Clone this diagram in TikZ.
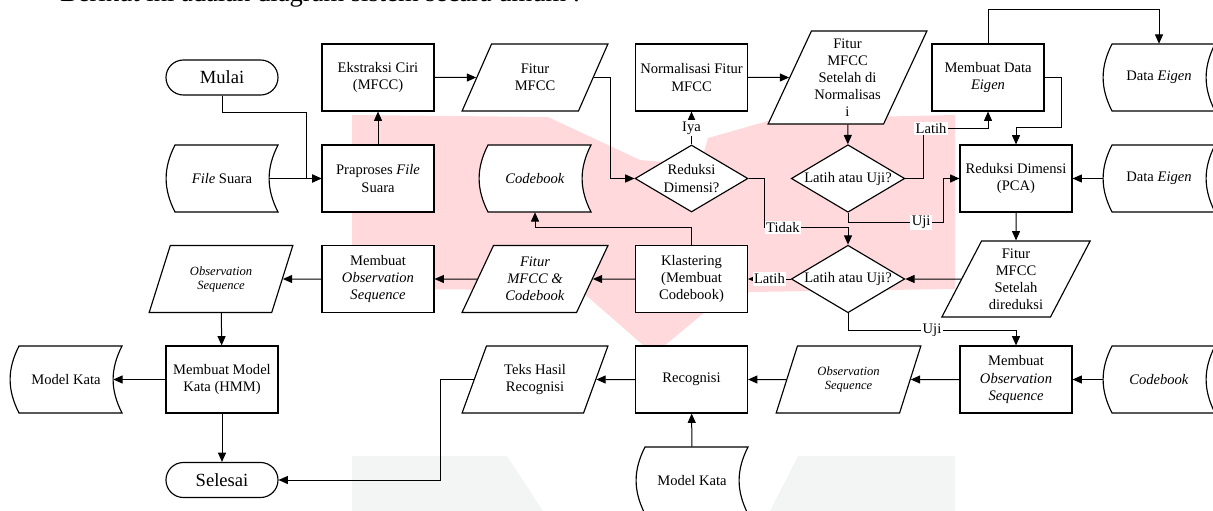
\documentclass[tikz,border=0pt]{standalone}
\usepackage{fontspec}
\setmainfont{Liberation Serif}
\usetikzlibrary{arrows.meta}
\usetikzlibrary{shapes.geometric}
\usetikzlibrary{calc}

\definecolor{logopink}{RGB}{255,217,220}
\definecolor{logogray}{RGB}{243,244,244}

\tikzset{
  shapeline/.style={draw=black, line width=0.8pt},
  proses/.style={shapeline, fill=white, rectangle, minimum width=78.4pt, minimum height=46.9pt, inner sep=1pt, align=center},
  terminal/.style={shapeline, fill=white, rectangle, rounded corners=12.2pt, minimum width=78.4pt, minimum height=24.5pt, font=\fontsize{13}{15}\selectfont},
  io/.style={shapeline, fill=white, trapezium, trapezium left angle=63, trapezium right angle=117, trapezium stretches=true, minimum width=102.2pt, minimum height=46.9pt, inner sep=0pt, align=center},
  keputusan/.style={shapeline, fill=white, diamond, aspect=1.68, minimum width=77pt, minimum height=46.9pt, inner sep=0.5pt, align=center},
  datastore/.style={minimum width=78.4pt, minimum height=46.9pt, inner sep=0pt, align=center},
  kecil/.style={font=\fontsize{8.8}{9.8}\selectfont\itshape},
  lbl/.style={fill=white, inner sep=1pt},
  alur/.style={line width=0.7pt, ->, >={Triangle[length=6.5pt,width=5.6pt]}},
}

% outline of a stored-data symbol around a centre point
\newcommand{\drawstore}[1]{%
  \draw[shapeline, fill=white] (#1) +(-47,-33.5) -- +(56,-33.5)
    to[bend right=27] +(56,33.5) -- +(-47,33.5)
    to[bend left=27] +(-47,-33.5) -- cycle;}

\begin{document}
\begin{tikzpicture}[x=0.7pt, y=-0.7pt, font=\fontsize{10.2}{12}\selectfont]
\useasboundingbox (0,0) rectangle (1213,511);

% watermark in the background
\fill[logopink] (352,115) -- (548,117) -- (640,160) -- (700,165) -- (708,138) -- (775,119)
  -- (955,115) -- (955,289) -- (750,292) -- (705,312) -- (664,346) -- (644,346)
  -- (580,290) -- (352,289) -- cycle;
\fill[logogray] (352,456) -- (507,456) -- (543,511) -- (352,511) -- cycle;
\fill[logogray] (798,456) -- (955,456) -- (955,511) -- (770,511) -- cycle;

\node[anchor=base west, font=\fontsize{18.6}{22}\selectfont] (judul) at (55,1.5) {Berikut ini adalah diagram sistem secara umum :};

\foreach \pos in {{222,178.5},{535,178.5},{1159,77.5},{1159,178.5},{66,379.5},{1159,379.5},{692,480.5}}
  \drawstore{\pos};

% top rows
\node[terminal] (mulai) at (222,77.5) {Mulai};
\node[datastore] (suara) at (222,178.5) {\textit{File} Suara};
\node[proses] (praproses) at (378,178.5) {Praproses \textit{File}\\Suara};
\node[proses] (ekstraksi) at (378,77.5) {Ekstraksi Ciri\\(MFCC)};
\node[io] (fitur) at (535,77.5) {Fitur\\MFCC};
\node[proses] (normalisasi) at (691.5,77.5) {Normalisasi Fitur\\MFCC};
\node[io, minimum width=111.3pt, minimum height=65.1pt] (fiturnorm) at (847.5,77.5) {Fitur\\MFCC\\Setelah di\\Normalisas\\i};
\node[proses] (eigen) at (988,77.5) {Membuat Data\\\textit{Eigen}};
\node[datastore] (eigenA) at (1159,77.5) {Data \textit{Eigen}};
\node[datastore] (codebookA) at (535,178.5) {\textit{Codebook}};
\node[keputusan, minimum width=79pt] (reduksi) at (691.5,178.5) {Reduksi\\Dimensi?};
\node[keputusan] (pilihA) at (848,178.5) {Latih atau Uji?};
\node[proses] (pca) at (1016,178.5) {Reduksi Dimensi\\(PCA)};
\node[datastore] (eigenB) at (1159,178.5) {Data \textit{Eigen}};

% middle row
\node[io, kecil, minimum width=100.8pt] (seqA) at (221,279) {Observation\\Sequence};
\node[proses] (obsA) at (378,279) {Membuat\\\textit{Observation}\\\textit{Sequence}};
\node[io] (fiturcb) at (535,279) {\textit{Fitur}\\\textit{MFCC \&}\\\textit{Codebook}};
\node[proses] (klaster) at (691.5,279) {Klastering\\(Membuat\\Codebook)};
\node[keputusan] (pilihB) at (848,279) {Latih atau Uji?};
\node[io, minimum width=104.3pt, minimum height=53.2pt] (fiturpca) at (1016,279) {Fitur\\MFCC\\Setelah\\direduksi};

% bottom rows
\node[datastore] (modelA) at (66,379.5) {Model Kata};
\node[proses] (hmm) at (222,379.5) {Membuat Model\\Kata (HMM)};
\node[io] (teks) at (535,379.5) {Teks Hasil\\Recognisi};
\node[proses] (recog) at (691.5,379.5) {Recognisi};
\node[io, kecil, minimum width=101.5pt] (seqB) at (848.5,379.5) {Observation\\Sequence};
\node[proses] (obsB) at (1016,379.5) {Membuat\\\textit{Observation}\\\textit{Sequence}};
\node[datastore] (codebookB) at (1159,379.5) {\textit{Codebook}};
\node[terminal] (selesai) at (222,480) {Selesai};
\node[datastore] (modelB) at (692,480.5) {Model Kata};

% flow
\draw[alur] (mulai.south) -- ++(0,17) -- ++(84,0) |- (praproses.west);
\draw[alur] ([xshift=-6.3pt]suara.east) -- (praproses.west);
\draw[alur] (praproses) -- (ekstraksi);
\draw[alur] (ekstraksi) -- (fitur);
\draw[alur] (fitur.east) -- ++(17,0) |- (reduksi.west);
\draw[alur] (reduksi) -- node[lbl]{Iya} (normalisasi);
\draw[alur] (normalisasi) -- (fiturnorm);
\draw[alur] (fiturnorm) -- (pilihA);
\draw[alur] (pilihA.east) -- ++(18,0) |- node[lbl, pos=0.56]{Latih} ($(eigen.south)+(0,17)$) -- (eigen.south);
\draw[alur] (pilihA.south) -- ++(0,9.5) -- node[lbl, pos=0.77]{Uji} ++(95,0) |- (pca.west);
\draw[alur] (eigen.east) -- ++(17,0) |- ($(pca.north)+(0,-17)$) -- (pca.north);
\draw[alur] (eigen.north) -- ++(0,-34) -| (eigenA.north);
\draw[alur] (eigenB) -- (pca);
\draw[alur] (pca) -- (fiturpca);
\draw[alur] (fiturpca) -- (pilihB);
\draw[alur] (reduksi.east) -- ++(16,0) |- node[lbl, pos=0.61]{Tidak} ($(pilihB.north)+(0,-17)$) -- (pilihB.north);
\draw[alur] (pilihB) -- node[lbl]{Latih} (klaster);
\draw[alur] (pilihB.south) -- ++(0,17) -| node[lbl, pos=0.25]{Uji} (obsB.north);
\draw[alur] (klaster.north) -- ++(0,-17) -| (codebookA.south);
\draw[alur] (klaster) -- (fiturcb);
\draw[alur] (fiturcb) -- (obsA);
\draw[alur] (obsA) -- (seqA);
\draw[alur] (seqA) -- (hmm);
\draw[alur] (hmm) -- ([xshift=-6.3pt]modelA.east);
\draw[alur] (hmm) -- (selesai);
\draw[alur] (codebookB) -- (obsB);
\draw[alur] (obsB) -- (seqB);
\draw[alur] (seqB) -- (recog);
\draw[alur] (recog) -- (teks);
\draw[alur] (modelB) -- (recog);
\draw[alur] (teks.west) -- ++(-33,0) |- (selesai.east);

\end{tikzpicture}
\end{document}
